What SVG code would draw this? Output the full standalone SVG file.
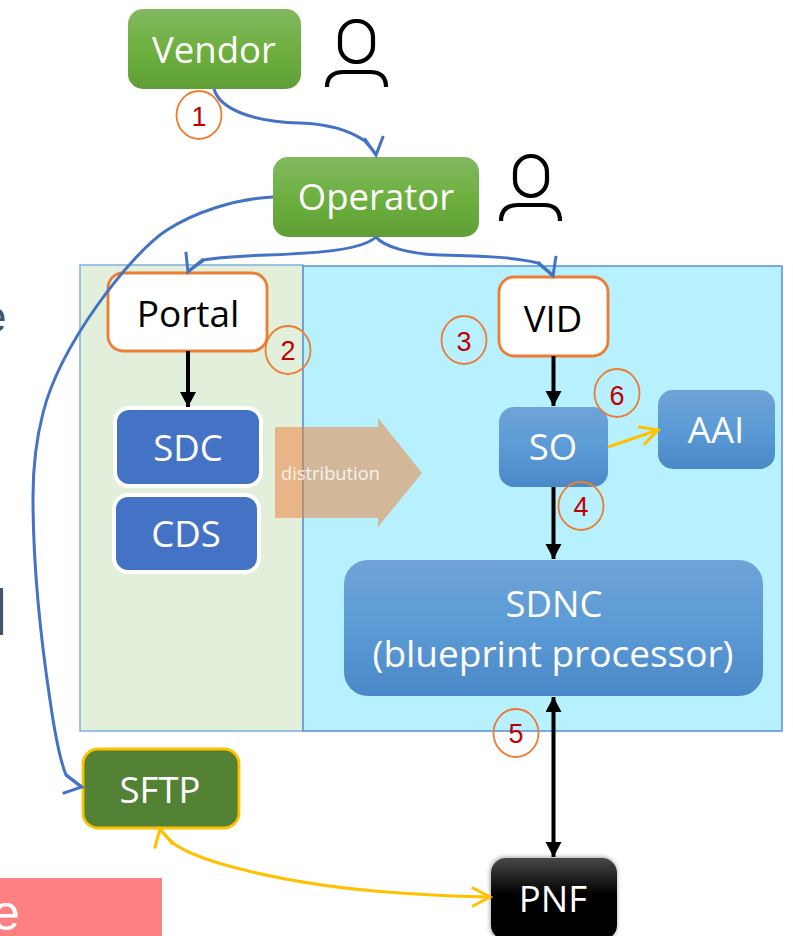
<svg xmlns="http://www.w3.org/2000/svg" width="793" height="936" viewBox="0 0 793 936">
<style>
text{font-family:"Open Sans","Noto Sans","DejaVu Sans",sans-serif;text-anchor:middle}
.w{fill:#fff;font-size:36.5px}
.k{fill:#000;font-size:36.5px}
.n{fill:#c00000;font-family:"Liberation Sans",Arial,sans-serif;font-size:27px}
.c{fill:none;stroke:#ed7d31;stroke-width:1.8}
.edge{font-family:"Liberation Sans",Arial,sans-serif;text-anchor:start}
.blue{fill:none;stroke:#4472c4;stroke-width:3}
.blk{fill:none;stroke:#000;stroke-width:4}
.yel{fill:none;stroke:#ffc000;stroke-width:3}
.per{fill:none;stroke:#000;stroke-width:4.2}
</style>
<defs>
<linearGradient id="g" x1="0" y1="0" x2="0" y2="1"><stop offset="0" stop-color="#81b861"/><stop offset=".5" stop-color="#6eb040"/><stop offset="1" stop-color="#5f9e35"/></linearGradient>
<linearGradient id="b" x1="0" y1="0" x2="0" y2="1"><stop offset="0" stop-color="#6fa3d8"/><stop offset=".5" stop-color="#5b9bd5"/><stop offset="1" stop-color="#4a88c7"/></linearGradient>
<linearGradient id="d" x1="0" y1="0" x2="0" y2="1"><stop offset="0" stop-color="#484848"/><stop offset=".45" stop-color="#000"/><stop offset="1" stop-color="#000"/></linearGradient>
<filter id="soft" x="-10%" y="-10%" width="120%" height="120%"><feGaussianBlur stdDeviation="2"/></filter>
<marker id="ab" markerUnits="userSpaceOnUse" markerWidth="26" markerHeight="26" refX="21" refY="13" orient="auto"><path d="M3 3.5L21 13L3 22.5" fill="none" stroke="#4472c4" stroke-width="3"/></marker>
<marker id="ay" markerUnits="userSpaceOnUse" markerWidth="26" markerHeight="26" refX="21" refY="13" orient="auto-start-reverse"><path d="M3 3.5L21 13L3 22.5" fill="none" stroke="#ffc000" stroke-width="3"/></marker>
<marker id="ak" markerUnits="userSpaceOnUse" markerWidth="20" markerHeight="20" refX="15" refY="8" orient="auto-start-reverse"><path d="M0 0L15 8L0 16z" fill="#000"/></marker>
</defs>
<rect x="0" y="878" width="162" height="58" fill="#ff8080"/>
<text class="edge" x="-8" y="930" style="font-size:50px;fill:#fff">e</text>
<text class="edge" x="-18" y="332" style="font-size:44px;fill:#44546a">e</text>
<text class="edge" x="-7" y="635" style="font-size:65px;fill:#44546a">l</text>
<g id="zones">
<rect x="80" y="265" width="223" height="466" fill="#e2efda" stroke="#7fb0dc" stroke-width="1.5"/>
<rect x="303" y="266" width="479" height="465" fill="#b7f0ff" stroke="#5b8fd5" stroke-width="1.5"/>
</g>
<g id="distribution">
<path d="M275 427H378V418L422 473L378 527V518H275z" fill="#ed7d31" fill-opacity=".5"/>
<text x="330.500" y="480" style="font-size:18.3px;fill:#fff;fill-opacity:.85">distribution</text>
</g>
<g id="vendor"><rect x="128" y="9" width="173" height="80" rx="15" fill="url(#g)"/><text class="w" x="214" y="63">Vendor</text></g>
<g id="vendor-user"><rect x="340" y="21" width="33" height="41" rx="16" class="per"/><path d="M327 87Q327 72 344 72H370Q386 72 386 87" class="per"/></g>
<g id="operator"><rect x="273" y="157" width="206" height="80" rx="15" fill="url(#g)"/><text class="w" x="376" y="210">Operator</text></g>
<g id="operator-user"><rect x="515" y="156" width="32" height="40" rx="16" class="per"/><path d="M501 221Q501 205 518 205H544Q560 205 560 221" class="per"/></g>
<g id="portal"><rect x="108" y="273" width="159" height="78" rx="15" fill="#fff" stroke="#ed7d31" stroke-width="2.8"/><text class="k" x="188" y="327" style="font-size:37px">Portal</text></g>
<g id="vid"><rect x="499" y="277" width="109" height="79" rx="15" fill="#fff" stroke="#ed7d31" stroke-width="2.8"/><text class="k" x="553" y="332">VID</text></g>
<g id="sdc"><rect x="115" y="408" width="146" height="78" rx="14" fill="#4472c4" stroke="#fff" stroke-width="4"/><text class="w" x="188" y="461">SDC</text></g>
<g id="cds"><rect x="114" y="495" width="145" height="77" rx="14" fill="#4472c4" stroke="#fff" stroke-width="4"/><text class="w" x="186" y="547">CDS</text></g>
<g id="so"><rect x="499" y="407" width="109" height="80" rx="15" fill="url(#b)"/><text class="w" x="553" y="460">SO</text></g>
<g id="aai"><rect x="658" y="390" width="117" height="79" rx="15" fill="url(#b)"/><text class="w" x="716" y="443">AAI</text></g>
<g id="sdnc"><rect x="344" y="560" width="419" height="136" rx="24" fill="url(#b)"/><text class="w" x="554" y="617">SDNC</text><text class="w" x="553" y="667" style="font-size:37px">(blueprint processor)</text></g>
<g id="sftp"><rect x="83" y="749" width="156" height="79" rx="15" fill="#548235" stroke="#ffc000" stroke-width="2.8"/><text class="w" x="160" y="803">SFTP</text></g>
<g id="pnf"><rect x="490" y="857" width="127" height="84" rx="15" fill="#000" fill-opacity=".35" filter="url(#soft)"/><rect x="491" y="858" width="126" height="82" rx="15" fill="url(#d)"/><text class="w" x="553" y="912">PNF</text></g>
<g id="connectors">
<path class="blue" marker-end="url(#ab)" d="M214 89C220 110 255 122 300 123C330 124 352 132 365 141L375.880 154L376 155"/>
<path class="blue" marker-end="url(#ab)" d="M376 237C362 250 320 253 267 255C240 256 220 257 204 260L188.400 271L188 272"/>
<path class="blue" marker-end="url(#ab)" d="M376 237C384 247 410 254 440 255C480 256 515 257 538 263L552.650 275L553 276"/>
<path class="blue" marker-end="url(#ab)" d="M273 197C235 199 195 212 167 230C130 254 60 345 43 413C36 440 33 470 33 497C33 560 38 620 50 700C55 735 60 760 66 775L81 786.830L82 787"/>
<path class="blk" marker-end="url(#ak)" d="M188 351V407"/>
<path class="blk" marker-end="url(#ak)" d="M553.500 356V406"/>
<path class="blk" marker-end="url(#ak)" d="M553.500 487V559"/>
<path class="blk" marker-start="url(#ak)" marker-end="url(#ak)" d="M553.500 697V857"/>
<path class="yel" marker-end="url(#ay)" d="M608 447L658 430"/>
<path class="yel" marker-start="url(#ay)" marker-end="url(#ay)" d="M160 829L160.220 830L173 843C195 860 280 885 400 893C430 895 460 896.500 489 897L490 897"/>
</g>
<g id="badge1"><ellipse class="c" cx="199" cy="115" rx="22.500" ry="24"/><text class="n" x="199" y="126">1</text></g>
<g id="badge2"><ellipse class="c" cx="288" cy="350" rx="22.500" ry="24"/><text class="n" x="288" y="360">2</text></g>
<g id="badge3"><ellipse class="c" cx="464" cy="340" rx="22.500" ry="24"/><text class="n" x="464" y="351">3</text></g>
<g id="badge4"><ellipse class="c" cx="581" cy="506" rx="22.500" ry="24"/><text class="n" x="581" y="516">4</text></g>
<g id="badge5"><ellipse class="c" cx="516" cy="733" rx="22.500" ry="24"/><text class="n" x="516" y="743">5</text></g>
<g id="badge6"><ellipse class="c" cx="617" cy="393" rx="22.500" ry="24"/><text class="n" x="617" y="405">6</text></g>
</svg>
